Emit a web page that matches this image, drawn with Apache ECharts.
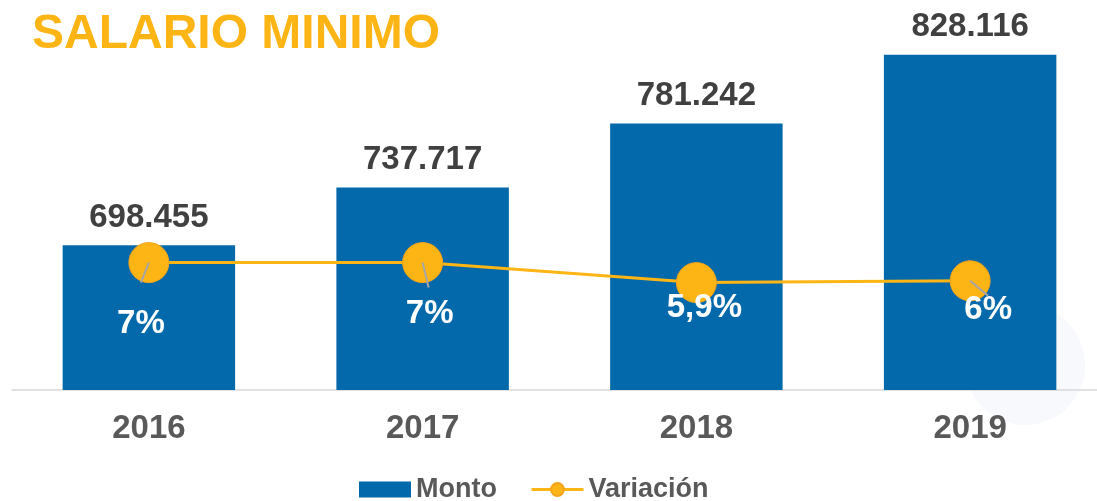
<!DOCTYPE html>
<html>
<head>
<meta charset="utf-8">
<script src="https://cdn.jsdelivr.net/npm/echarts@6/dist/echarts.min.js"></script>
<style>
  html, body { margin: 0; padding: 0; background: #ffffff; }
  #chart { width: 1097px; height: 501px; }
</style>
</head>
<body>
<div id="chart"></div>
<script>
// ---- data ----
const years = ['2016', '2017', '2018', '2019'];
const monto = [698455, 737717, 781242, 828116];
const variacion = [7, 7, 5.9, 6];
const variacionLabels = ['7%', '7%', '5,9%', '6%'];
const montoLabels = ['698.455', '737.717', '781.242', '828.116'];

// ---- styling (label offsets / leader lines, in px) ----
const labelOffsets = [[-8, 61], [7, 51], [8, 25], [18, 29]];
const leaderEnds = [[-8, 20], [6, 25], [0, 0], [18, 15]];

const FONT = '"Liberation Sans", Arial, sans-serif';
const BLUE = '#0369AA';
const GOLD = '#FDB515';

const chart = echarts.init(document.getElementById('chart'), null, { renderer: 'canvas' });

const option = {
  animation: false,
  backgroundColor: '#ffffff',
  title: {
    text: 'SALARIO MINIMO',
    left: 32, top: 11, padding: 0,
    textStyle: { color: GOLD, fontFamily: FONT, fontWeight: 'bold', fontSize: 48 }
  },
  graphic: [{
    type: 'circle', z: -10, silent: true,
    shape: { cx: 1025, cy: 365, r: 60 },
    style: { fill: '#F7F9FC' }
  }],
  legend: {
    data: [{ name: 'Monto', icon: 'rect' }, { name: 'Variación' }],
    left: 354, top: 471,
    itemWidth: 52, itemHeight: 16, itemGap: 33,
    lineStyle: { width: 3 },
    textStyle: { color: '#595959', fontFamily: FONT, fontWeight: 'bold', fontSize: 27 }
  },
  grid: { left: 12, width: 1095, top: 40, bottom: 111, containLabel: false, outerBoundsMode: 'none' },
  xAxis: {
    type: 'category',
    data: years,
    axisLine: { lineStyle: { color: '#D9D9D9', width: 1.5 } },
    axisTick: { show: false },
    axisLabel: { color: '#595959', fontFamily: FONT, fontWeight: 'bold', fontSize: 33, margin: 22 }
  },
  yAxis: [
    { type: 'value', min: 600000, max: 838100, show: false, splitLine: { show: false } },
    { type: 'value', min: 0, max: 19.23, show: false, splitLine: { show: false } }
  ],
  series: [
    {
      name: 'Monto',
      type: 'bar',
      barWidth: '63%',
      itemStyle: { color: BLUE },
      data: monto,
      label: {
        show: true, position: 'top', distance: 11,
        color: '#404040', fontFamily: FONT, fontWeight: 'bold', fontSize: 33,
        formatter: p => montoLabels[p.dataIndex]
      }
    },
    {
      name: 'Variación',
      type: 'line',
      yAxisIndex: 1,
      symbol: 'circle',
      symbolSize: 40,
      itemStyle: { color: GOLD, borderColor: '#F5A31A', borderWidth: 1 },
      lineStyle: { color: GOLD, width: 3 },
      data: variacion.map((v, i) => ({
        value: v,
        label: { offset: labelOffsets[i] }
      })),
      label: {
        show: true, position: 'inside',
        color: '#ffffff', fontFamily: FONT, fontWeight: 'bold', fontSize: 33,
        formatter: p => variacionLabels[p.dataIndex]
      },
      z: 3
    },
    {
      type: 'custom',
      yAxisIndex: 1,
      silent: true,
      z: 4,
      data: variacion.map((v, i) => [i, v]),
      renderItem: function (params, api) {
        const p = api.coord([api.value(0), api.value(1)]);
        const e = leaderEnds[params.dataIndex];
        return {
          type: 'line',
          shape: { x1: p[0], y1: p[1], x2: p[0] + e[0], y2: p[1] + e[1] },
          style: { stroke: '#A6A6A6', lineWidth: 2 }
        };
      }
    }
  ]
};

chart.setOption(option);
</script>
</body>
</html>
